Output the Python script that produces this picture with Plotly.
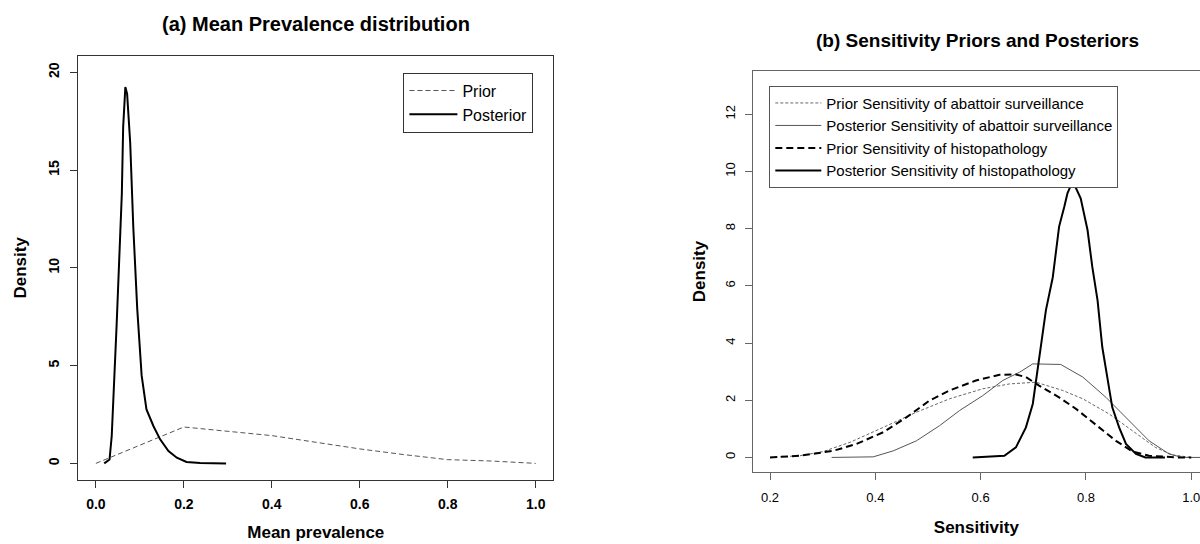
import plotly.graph_objects as go

# ---------------- data: panel (a) mean prevalence ----------------
prev_prior_x = [0.0, 0.2, 0.3, 0.4, 0.5, 0.6, 0.7, 0.76, 0.8, 0.9, 1.0]
prev_prior_y = [0.0, 1.86, 1.64, 1.42, 1.08, 0.74, 0.45, 0.30, 0.19, 0.12, 0.0]

prev_post_x = [0.019, 0.031, 0.036, 0.041, 0.047, 0.053, 0.059, 0.062, 0.067, 0.071,
               0.078, 0.085, 0.094, 0.104, 0.115, 0.131, 0.146, 0.165, 0.184, 0.206,
               0.237, 0.296]
prev_post_y = [0.0, 0.2, 1.4, 3.6, 7.0, 10.4, 13.8, 17.2, 19.25, 18.9,
               16.4, 12.1, 7.9, 4.5, 2.76, 1.9, 1.23, 0.63, 0.29, 0.07,
               0.02, 0.0]

# ---------------- data: panel (b) sensitivity ----------------
sens_prior_abat_x = [0.2, 0.257, 0.30, 0.352, 0.415, 0.478, 0.541, 0.604, 0.655, 0.705,
                     0.756, 0.794, 0.844, 0.888, 0.932, 0.964, 1.0]
sens_prior_abat_y = [0.0, 0.06, 0.2, 0.53, 1.05, 1.58, 2.05, 2.4, 2.57, 2.63,
                     2.34, 2.05, 1.52, 0.94, 0.35, 0.09, 0.0]

sens_post_abat_x = [0.317, 0.396, 0.434, 0.478, 0.522, 0.56, 0.604, 0.642, 0.674, 0.699,
                    0.752, 0.794, 0.838, 0.882, 0.92, 0.958, 0.983, 1.05]
sens_post_abat_y = [0.0, 0.02, 0.23, 0.58, 1.11, 1.64, 2.16, 2.69, 2.98, 3.27,
                    3.25, 2.81, 2.1, 1.29, 0.58, 0.12, 0.0, 0.0]

sens_prior_hist_x = [0.2, 0.257, 0.32, 0.364, 0.415, 0.459, 0.503, 0.541, 0.591, 0.636,
                     0.667, 0.686, 0.711, 0.749, 0.781, 0.825, 0.857, 0.888, 0.92, 0.97, 1.0]
sens_prior_hist_y = [0.0, 0.06, 0.23, 0.47, 0.88, 1.4, 1.99, 2.34, 2.69, 2.89,
                     2.9, 2.81, 2.51, 2.1, 1.7, 1.05, 0.58, 0.21, 0.06, 0.0, 0.0]

sens_post_hist_x = [0.585, 0.645, 0.667, 0.686, 0.699, 0.711, 0.724, 0.737, 0.749, 0.759,
                    0.765, 0.773, 0.781, 0.79, 0.803, 0.812, 0.822, 0.831, 0.841, 0.85,
                    0.863, 0.876, 0.895, 0.913, 0.95]
sens_post_hist_y = [0.0, 0.06, 0.35, 1.05, 1.87, 3.4, 5.15, 6.3, 8.07, 8.77,
                    9.24, 9.57, 9.42, 9.06, 7.95, 6.67, 5.5, 3.86, 2.69, 1.75,
                    1.05, 0.47, 0.12, 0.0, 0.0]

a_xticks = [0.0, 0.2, 0.4, 0.6, 0.8, 1.0]
a_yticks = [0, 5, 10, 15, 20]
b_xticks = [0.2, 0.4, 0.6, 0.8, 1.0]
b_yticks = [0, 2, 4, 6, 8, 10, 12]

FONT = "Liberation Sans, Arial, sans-serif"
W, H = 1200, 544

def px_x(p):
    return p / W

def px_y(p):
    return 1 - p / H

fig = go.Figure()

# panel (a)
fig.add_trace(go.Scatter(x=prev_prior_x, y=prev_prior_y, mode="lines", name="Prior",
                         line=dict(color="#555555", width=1, dash="5px,3px"),
                         xaxis="x", yaxis="y", legend="legend"))
fig.add_trace(go.Scatter(x=prev_post_x, y=prev_post_y, mode="lines", name="Posterior",
                         line=dict(color="black", width=2),
                         xaxis="x", yaxis="y", legend="legend"))

# panel (b)
fig.add_trace(go.Scatter(x=sens_prior_abat_x, y=sens_prior_abat_y, mode="lines",
                         name="Prior Sensitivity of abattoir surveillance",
                         line=dict(color="#666666", width=1, dash="3px,2px"),
                         xaxis="x2", yaxis="y2", legend="legend2"))
fig.add_trace(go.Scatter(x=sens_post_abat_x, y=sens_post_abat_y, mode="lines",
                         name="Posterior Sensitivity of abattoir surveillance",
                         line=dict(color="#555555", width=1),
                         xaxis="x2", yaxis="y2", legend="legend2"))
fig.add_trace(go.Scatter(x=sens_prior_hist_x, y=sens_prior_hist_y, mode="lines",
                         name="Prior Sensitivity of histopathology",
                         line=dict(color="black", width=2, dash="7px,4px"),
                         xaxis="x2", yaxis="y2", legend="legend2"))
fig.add_trace(go.Scatter(x=sens_post_hist_x, y=sens_post_hist_y, mode="lines",
                         name="Posterior Sensitivity of histopathology",
                         line=dict(color="black", width=2),
                         xaxis="x2", yaxis="y2", legend="legend2"))

axis_common = dict(showgrid=False, zeroline=False, showline=True, ticks="outside",
                   ticklen=7, linewidth=1, mirror=True)

fig.update_layout(
    width=W, height=H,
    margin=dict(l=0, r=0, t=0, b=0),
    paper_bgcolor="white", plot_bgcolor="white",
    font=dict(family=FONT, color="black"),
    xaxis=dict(domain=[px_x(78.3), px_x(553.3)], range=[-0.04, 1.04], anchor="y",
               tickvals=a_xticks, tickformat=".1f",
               linecolor="#333333", tickcolor="#333333",
               tickfont=dict(size=14, weight="bold"), ticklabelstandoff=4,
               title=dict(text="Mean prevalence", font=dict(size=17, weight="bold"), standoff=15),
               **axis_common),
    yaxis=dict(domain=[px_y(480), px_y(55.7)], range=[-0.85, 20.85], anchor="x",
               tickvals=a_yticks, tickangle=-90,
               linecolor="#333333", tickcolor="#333333",
               tickfont=dict(size=14, weight="bold"), ticklabelstandoff=6,
               title=dict(text="Density", font=dict(size=17, weight="bold"), standoff=14),
               **axis_common),
    xaxis2=dict(domain=[px_x(752.7), 1.0], range=[0.1671, 1.0166], anchor="y2",
                tickvals=b_xticks, tickformat=".1f",
                linecolor="#666666", tickcolor="#666666", ticklabeloverflow="allow",
                tickfont=dict(size=13), ticklabelstandoff=6,
                title=dict(text="Sensitivity", font=dict(size=17, weight="bold"), standoff=17),
                **axis_common),
    yaxis2=dict(domain=[px_y(472.3), px_y(70.7)], range=[-0.52, 13.52], anchor="x2",
                tickvals=b_yticks, tickangle=-90,
                linecolor="#666666", tickcolor="#666666",
                tickfont=dict(size=13), ticklabelstandoff=5,
                title=dict(text="Density", font=dict(size=17, weight="bold"), standoff=12),
                **{k: v for k, v in axis_common.items() if k != "mirror"}),
    legend=dict(x=px_x(403.4), y=px_y(72.6), xanchor="left", yanchor="top",
                bordercolor="#333333", borderwidth=1, bgcolor="white", itemwidth=48,
                font=dict(size=16, color="black"), tracegroupgap=0),
    legend2=dict(x=px_x(769.3), y=px_y(85.7), xanchor="left", yanchor="top",
                 bordercolor="#555555", borderwidth=1, bgcolor="white", itemwidth=46,
                 font=dict(size=15, color="black"), tracegroupgap=0),
    showlegend=True,
    annotations=[
        dict(text="(a) Mean Prevalence distribution", x=px_x(315.8), y=px_y(24.3),
             xref="paper", yref="paper", showarrow=False, xanchor="center", yanchor="middle",
             font=dict(size=20, weight="bold")),
        dict(text="(b) Sensitivity Priors and Posteriors", x=px_x(977), y=px_y(40.6),
             xref="paper", yref="paper", showarrow=False, xanchor="center", yanchor="middle",
             font=dict(size=19, weight="bold")),
    ],
)

fig.write_html("out.html", config={"displayModeBar": False},
               post_script="document.body.style.margin='0px';")
